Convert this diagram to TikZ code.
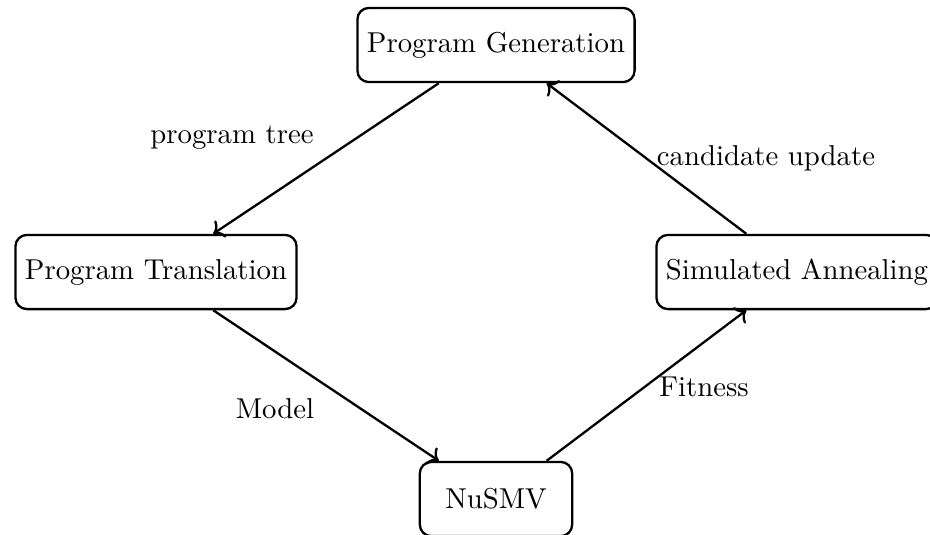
\documentclass[tikz,border=0pt]{standalone}
\usetikzlibrary{arrows.meta}
\begin{document}
\begin{tikzpicture}[x=0.3478pt, y=-0.3478pt,
  procbox/.style={draw, thick, rounded corners=4pt, minimum height=25.8pt, inner xsep=3.33pt},
  flow/.style={->, thick},
  lbl/.style={anchor=base, inner sep=0pt}]
\useasboundingbox (0,0) rectangle (930,534);
\node[procbox] (gen) at (496,45) {Program Generation};
\node[procbox] (trans) at (156,272) {Program Translation};
\node[procbox] (sa) at (797,272) {Simulated Annealing};
\node[procbox, minimum width=53pt] (smv) at (496,499) {NuSMV};
\draw[flow] (gen) -- (trans);
\draw[flow] (trans) -- (smv);
\draw[flow] (smv) -- (sa);
\draw[flow] (sa) -- (gen);
\node[lbl] (l1) at (232,143) {program tree};
\node[lbl] (l2) at (766,165) {candidate update};
\node[lbl] (l3) at (275,418) {Model};
\node[lbl] (l4) at (704,396) {Fitness};
\end{tikzpicture}
\end{document}
